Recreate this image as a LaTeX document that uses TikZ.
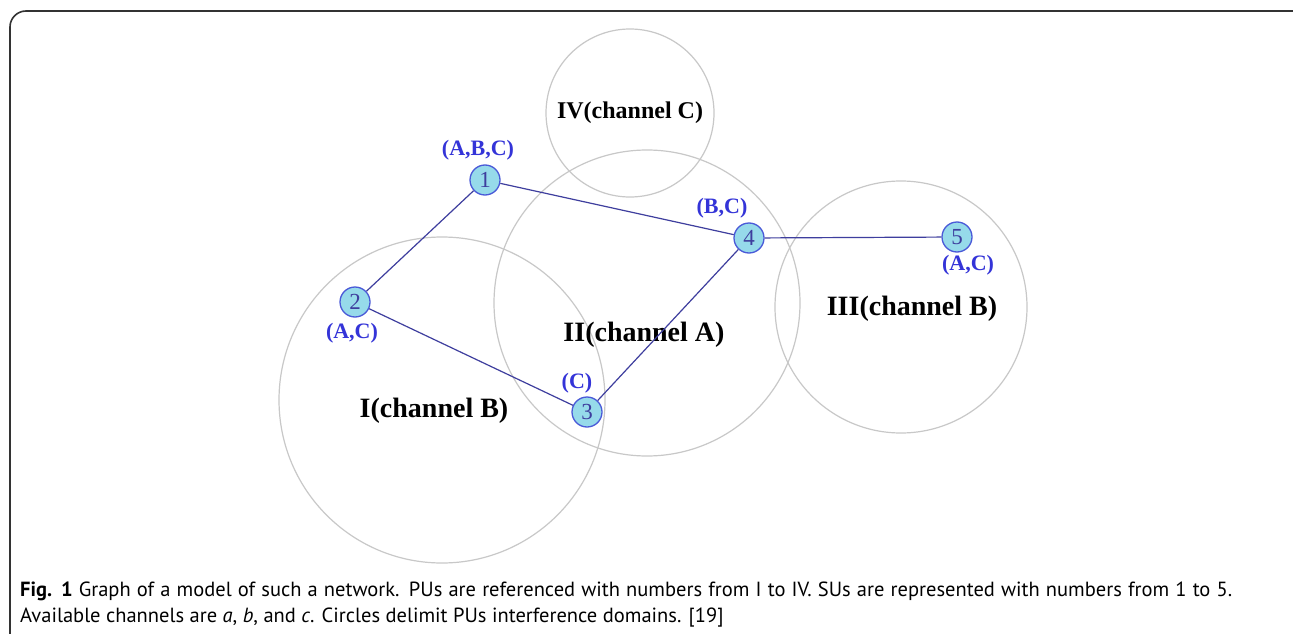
\documentclass[tikz,border=0pt]{standalone}
\usepackage{fontspec}
\setmainfont{Liberation Serif}
\newfontfamily\capfont{PT Sans}
\definecolor{domgray}{HTML}{C8C8C8}
\definecolor{sufill}{HTML}{96DAEA}
\definecolor{sudraw}{HTML}{4A5AD8}
\definecolor{lblblue}{HTML}{3434D8}
\definecolor{edgeblue}{HTML}{3E3E9E}
\definecolor{framegray}{HTML}{333333}
\begin{document}
\begin{tikzpicture}[x=1pt,y=-1pt,
  pudomain/.style={draw=domgray,line width=1.2pt},
  pulabel/.style={font=\fontsize{28}{30}\selectfont\bfseries,text=black},
  sunode/.style={circle,draw=sudraw,fill=sufill,line width=1.3pt,minimum size=30pt,inner sep=0pt,
    font=\fontsize{23}{24}\selectfont,text=edgeblue},
  chlabel/.style={font=\fontsize{22}{24}\selectfont\bfseries,text=lblblue},
  sulink/.style={draw=edgeblue,line width=1.2pt},
  captext/.style={font=\capfont\fontsize{20.5}{22}\selectfont,anchor=base west,inner sep=0pt}]
\useasboundingbox (0,0) rectangle (1293,634);
\fill[white] (0,0) rectangle (1293,634);
\draw[framegray,line width=1.6pt,rounded corners=16pt] (10,11) rectangle (1310,650);
% PU domains
\draw[pudomain] (630,113) circle (84);
\draw[pudomain] (647,303) circle (153);
\draw[pudomain] (442,400) circle (163);
\draw[pudomain] (901,307) circle (126);
\node[pulabel,font=\fontsize{24}{26}\selectfont\bfseries] (pu4) at (630,113) {IV(channel C)};
\node[pulabel] (pu2) at (644,335) {II(channel A)};
\node[pulabel] (pu3) at (912,309) {III(channel B)};
\node[pulabel] (pu1) at (434,411) {I(channel B)};
% SUs
\node[sunode] (s1) at (485,180) {1};
\node[sunode] (s2) at (355,302) {2};
\node[sunode] (s3) at (587,412) {3};
\node[sunode] (s4) at (749,238) {4};
\node[sunode] (s5) at (957,237) {5};
\draw[sulink] (s1) -- (s4);
\draw[sulink] (s1) -- (s2);
\draw[sulink] (s2) -- (s3);
\draw[sulink] (s3) -- (s4);
\draw[sulink] (s4) -- (s5);
\node[chlabel] (c1) at (478,150) {(A,B,C)};
\node[chlabel] (c2) at (352,333) {(A,C)};
\node[chlabel] (c3) at (577,383) {(C)};
\node[chlabel] (c4) at (722,208) {(B,C)};
\node[chlabel] (c5) at (968,265) {(A,C)};
% caption
\node[captext] (cap1) at (20,596) {\makebox[1212pt][s]{\textbf{Fig. 1} Graph of a model of such a network. PUs are referenced with numbers from I to IV. SUs are represented with numbers from 1 to 5.}};
\node[captext] (cap2) at (20,622) {Available channels are \textit{a}, \textit{b}, and \textit{c}. Circles delimit PUs interference domains. [19]};
\end{tikzpicture}
\end{document}
